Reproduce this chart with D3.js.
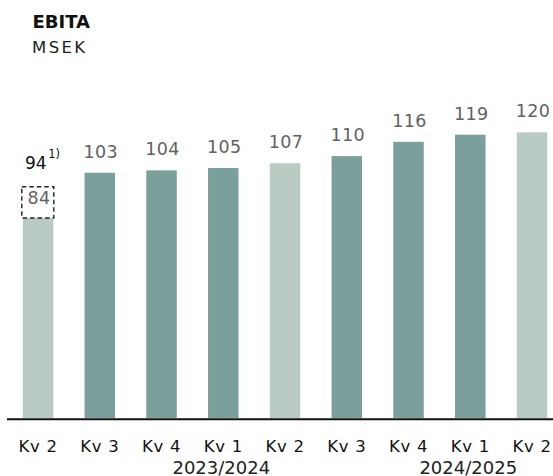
<!DOCTYPE html>
<html><head><meta charset="utf-8">
<script src="https://cdn.jsdelivr.net/npm/d3@7/dist/d3.min.js"></script>
<style>body{margin:0;background:#fff}svg{display:block}text{font-family:"DejaVu Sans",Verdana,sans-serif}</style>
</head><body><svg id="c" width="553" height="476"></svg>
<script>
const categories = ["Kv 2","Kv 3","Kv 4","Kv 1","Kv 2","Kv 3","Kv 4","Kv 1","Kv 2"];
const values = [84,103,104,105,107,110,116,119,120];
const highlight = [true,false,false,false,true,false,false,false,true];
const yearLabels = [{at:3,label:"2023/2024"},{at:7,label:"2024/2025"}];
const adjusted = {index:0, value:94, note:"1)"};

const svg = d3.select("#c");
const x = d3.scaleBand().domain(d3.range(categories.length)).range([7.36,562.7]).paddingInner(0.506).paddingOuter(0.25);
const y = d3.scaleLinear().domain([0,120]).range([418,132.3]);
const FONT = '"DejaVu Sans",Verdana,sans-serif';

svg.append("text").attr("x",32.5).attr("y",27.7).attr("font-size",18).attr("font-weight","bold").attr("fill","#111").text("EBITA");
svg.append("text").attr("x",32).attr("y",52.5).attr("font-size",16.5).attr("letter-spacing",2.4).attr("fill","#222").text("MSEK");

svg.selectAll("rect.bar").data(values).join("rect").attr("class","bar")
  .attr("x",(d,i)=>x(i)).attr("width",x.bandwidth())
  .attr("y",d=>y(d)).attr("height",d=>y(0)-y(d))
  .attr("fill",(d,i)=>highlight[i]?"#b9cbc3":"#7ba09b");

svg.selectAll("text.val").data(values).join("text").attr("class","val")
  .attr("x",(d,i)=>x(i)+x.bandwidth()/2+1)
  .attr("y",(d,i)=> i===adjusted.index ? y(d)-14 : y(d)-15)
  .attr("text-anchor","middle").attr("font-size",17.5).attr("letter-spacing",0.4).attr("fill","#626262").text(d=>d);

// dashed box around the reported label
const bx = x(adjusted.index);
svg.append("rect").attr("x",bx-1).attr("y",y(values[adjusted.index])-31.3).attr("width",x.bandwidth()+1.5).attr("height",31.3)
  .attr("fill","none").attr("stroke","#222").attr("stroke-width",1.4).attr("stroke-dasharray","4.5,3");

const ax = svg.append("text").attr("x",x(adjusted.index)+x.bandwidth()/2-13).attr("y",169)
  .attr("text-anchor","start").attr("font-size",17).attr("fill","#111");
ax.append("tspan").text(adjusted.value);
ax.append("tspan").attr("font-size",11.5).attr("dy",-11).attr("dx",1.5).text(adjusted.note);

const xAxis = d3.axisBottom(x).tickSize(0).tickPadding(0).tickFormat(i=>categories[i]);
const g = svg.append("g").attr("transform",`translate(0,${y(0)})`).call(xAxis);
g.select(".domain").remove();
g.selectAll("text").attr("font-size",16.5).attr("letter-spacing",0.7).attr("fill","#111").attr("dy",null).attr("y",34.2).style("font-family",FONT);
svg.append("line").attr("x1",7).attr("x2",553).attr("y1",419.3).attr("y2",419.3).attr("stroke","#111").attr("stroke-width",2);

svg.selectAll("text.yr").data(yearLabels).join("text").attr("class","yr")
  .attr("x",d=>x(d.at)+x.bandwidth()/2-2).attr("y",473.5).attr("text-anchor","middle")
  .attr("font-size",18).attr("fill","#222").text(d=>d.label);
</script></body></html>
